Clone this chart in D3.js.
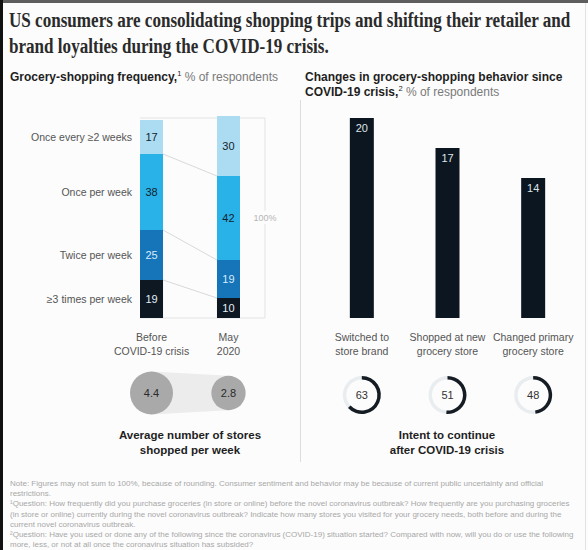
<!DOCTYPE html>
<html>
<head>
<meta charset="utf-8">
<script src="https://cdn.jsdelivr.net/npm/d3@7"></script>
<style>
  html, body { margin: 0; padding: 0; background: #fff; }
  svg { display: block; font-family: "Liberation Sans", Arial, sans-serif; }
</style>
</head>
<body>
<svg id="chart" width="588" height="550"></svg>
<script>
// ---- data ----
const titleLines = [
  "US consumers are consolidating shopping trips and shifting their retailer and",
  "brand loyalties during the COVID-19 crisis."
];
const frequencyLabels = ["≥3 times per week", "Twice per week", "Once per week", "Once every ≥2 weeks"];
const periodLabels = [["Before", "COVID-19 crisis"], ["May", "2020"]];
const beforeShares = [19, 25, 38, 17];
const may2020Shares = [10, 19, 42, 30];
const avgStores = [4.4, 2.8];
const changeLabels = [["Switched to", "store brand"], ["Shopped at new", "grocery store"], ["Changed primary", "grocery store"]];
const changeShares = [20, 17, 14];
const intentShares = [63, 51, 48];
const footnotes = [
  "Note: Figures may not sum to 100%, because of rounding. Consumer sentiment and behavior may be because of current public uncertainty and official",
  "restrictions.",
  "¹Question: How frequently did you purchase groceries (in store or online) before the novel coronavirus outbreak? How frequently are you purchasing groceries",
  "(in store or online) currently during the novel coronavirus outbreak? Indicate how many stores you visited for your grocery needs, both before and during the",
  "current novel coronavirus outbreak.",
  "²Question: Have you used or done any of the following since the coronavirus (COVID-19) situation started? Compared with now, will you do or use the following",
  "more, less, or not at all once the coronavirus situation has subsided?"
];

// ---- styling ----
const segmentFill = ["#0d1823", "#1674b8", "#29b2e8", "#acdcf1"];
const segmentText = ["#e6eef5", "#d6ecfa", "#14222e", "#14222e"];
const ink = "#1f1f1f";

const svg = d3.select("#chart");

// page frame
svg.append("rect").attr("width", 588).attr("height", 550).attr("fill", "#fcfcfc");
svg.append("rect").attr("width", 588).attr("height", 3).attr("fill", "#5e5e5e");
svg.append("rect").attr("width", 3).attr("height", 550).attr("fill", "#111");
svg.append("line").attr("x1", 585.5).attr("x2", 585.5).attr("y1", 3).attr("y2", 550)
  .attr("stroke", "#e2e2e2");

// ---- title (narrowed horizontally to a condensed serif look) ----
const title = svg.append("g")
  .attr("font-family", "'Liberation Serif', 'DejaVu Serif', serif")
  .attr("font-weight", "bold").attr("font-size", 21).attr("fill", "#2b2b2b");
const titleTexts = title.selectAll("text").data(titleLines).join("text").text(d => d);
const squeeze = 562 / titleTexts.nodes()[0].getComputedTextLength();
titleTexts.attr("transform", (d, i) => `translate(9,${27 + i * 26}) scale(${squeeze},1)`);

// ---- subtitle helper ----
function subtitle(x, y, boldLines, sup, rest) {
  boldLines.forEach((line, i) => {
    const t = svg.append("text").attr("x", x).attr("y", y + i * 15)
      .attr("font-size", 12).attr("fill", ink);
    t.append("tspan").attr("font-weight", "bold").text(line);
    if (i === boldLines.length - 1) {
      t.append("tspan").attr("font-size", 7.5).attr("dy", -5).text(sup);
      t.append("tspan").attr("dy", 5).attr("fill", "#7a7a7a").text(" " + rest);
    }
  });
}
subtitle(10, 81, ["Grocery-shopping frequency,"], "1", "% of respondents");
subtitle(305, 81, ["Changes in grocery-shopping behavior since", "COVID-19 crisis,"], "2", "% of respondents");

// divider between the two panels
svg.append("line").attr("x1", 300.5).attr("x2", 300.5).attr("y1", 100).attr("y2", 462)
  .attr("stroke", "#dcdcdc");

// ---- left panel: stacked frequency bars ----
const xL = d3.scaleBand().domain([0, 1]).range([140, 240]).paddingInner(0.701);
const yL = d3.scaleLinear().domain([0, 100]).range([318, 118]);

const rows = [beforeShares, may2020Shares].map(arr => Object.assign({}, arr));
const stacked = d3.stack().keys(d3.range(frequencyLabels.length))(rows);

// 100% frame
const frameRight = 265;
svg.append("path")
  .attr("d", `M${xL(0)},${yL(100)}H${frameRight}V${yL(0)}H${xL(0)}`)
  .attr("fill", "none").attr("stroke", "#e3e3e3");
svg.append("rect").attr("x", frameRight - 14).attr("y", yL(50) - 7).attr("width", 28).attr("height", 13)
  .attr("fill", "#fcfcfc");
svg.append("text").attr("x", frameRight).attr("y", yL(50)).attr("dy", "0.35em")
  .attr("text-anchor", "middle").attr("font-size", 9).attr("fill", "#b5b5b5").text("100%");

// connectors between matching segment boundaries
const boundaries = stacked.slice(0, -1).map(s => [s[0][1], s[1][1]]);
svg.append("g").selectAll("line").data(boundaries).join("line")
  .attr("x1", xL(0) + xL.bandwidth()).attr("x2", xL(1))
  .attr("y1", d => yL(d[0])).attr("y2", d => yL(d[1]))
  .attr("stroke", "#d9d9d9").attr("stroke-width", 1);

const seg = svg.append("g").selectAll("g").data(stacked).join("g");
seg.selectAll("rect").data((s) => s.map((d, j) => ({ d, j, k: s.key }))).join("rect")
  .attr("x", o => xL(o.j)).attr("width", xL.bandwidth())
  .attr("y", o => yL(o.d[1])).attr("height", o => yL(o.d[0]) - yL(o.d[1]))
  .attr("fill", o => segmentFill[o.k]);
seg.selectAll("text").data((s) => s.map((d, j) => ({ d, j, k: s.key }))).join("text")
  .attr("x", o => xL(o.j) + xL.bandwidth() / 2)
  .attr("y", o => yL((o.d[0] + o.d[1]) / 2)).attr("dy", "0.36em")
  .attr("text-anchor", "middle").attr("font-size", 11)
  .attr("fill", o => segmentText[o.k])
  .text(o => o.d[1] - o.d[0]);

// category labels beside the first bar
svg.append("g").selectAll("text").data(stacked).join("text")
  .attr("x", 132).attr("y", s => yL((s[0][0] + s[0][1]) / 2)).attr("dy", "0.35em")
  .attr("text-anchor", "end").attr("font-size", 10.5).attr("fill", "#555")
  .text(s => frequencyLabels[s.key]);

// period labels
periodLabels.forEach((lines, j) => {
  svg.append("g").selectAll("text").data(lines).join("text")
    .attr("x", xL(j) + xL.bandwidth() / 2).attr("y", (d, i) => 341 + i * 14)
    .attr("text-anchor", "middle").attr("font-size", 10.5).attr("fill", "#555").text(d => d);
});

// average number of stores bubbles
const rScale = d3.scaleSqrt().domain([0, 4.4]).range([0, 21.5]);
const bubbleY = 393;
const bx = avgStores.map((v, j) => xL(j) + xL.bandwidth() / 2);
svg.append("path")
  .attr("d", `M${bx[0]},${bubbleY - rScale(avgStores[0])}L${bx[1]},${bubbleY - rScale(avgStores[1])}` +
             `V${bubbleY + rScale(avgStores[1])}L${bx[0]},${bubbleY + rScale(avgStores[0])}Z`)
  .attr("fill", "#ececec");
svg.append("g").selectAll("circle").data(avgStores).join("circle")
  .attr("cx", (d, j) => bx[j]).attr("cy", bubbleY).attr("r", d => rScale(d))
  .attr("fill", "#a9a9a9");
svg.append("g").selectAll("text").data(avgStores).join("text")
  .attr("x", (d, j) => bx[j]).attr("y", bubbleY).attr("dy", "0.36em")
  .attr("text-anchor", "middle").attr("font-size", 11).attr("fill", "#2a2a2a")
  .text(d => d.toFixed(1));
svg.append("g").selectAll("text").data(["Average number of stores", "shopped per week"]).join("text")
  .attr("x", 190).attr("y", (d, i) => 439 + i * 15).attr("text-anchor", "middle")
  .attr("font-size", 11.5).attr("font-weight", "bold").attr("fill", ink).text(d => d);

// ---- right panel: behaviour change bars ----
const xR = d3.scaleBand().domain(d3.range(changeShares.length)).range([319, 576])
  .paddingInner(0.72).paddingOuter(0.36);
const yR = d3.scaleLinear().domain([0, 20]).range([318, 118]);
const cxR = i => xR(i) + xR.bandwidth() / 2;

svg.append("g").selectAll("rect").data(changeShares).join("rect")
  .attr("x", (d, i) => xR(i)).attr("width", xR.bandwidth())
  .attr("y", d => yR(d)).attr("height", d => yR(0) - yR(d))
  .attr("fill", "#0c1620");
svg.append("g").selectAll("text").data(changeShares).join("text")
  .attr("x", (d, i) => cxR(i)).attr("y", d => yR(d) + 14)
  .attr("text-anchor", "middle").attr("font-size", 11).attr("fill", "#dfe5ea").text(d => d);

changeLabels.forEach((lines, i) => {
  svg.append("g").selectAll("text").data(lines).join("text")
    .attr("x", cxR(i)).attr("y", (d, k) => 341 + k * 14)
    .attr("text-anchor", "middle").attr("font-size", 10.5).attr("fill", "#555").text(d => d);
});

// intent-to-continue rings
const ringY = 395;
const ringArc = d3.arc().innerRadius(15.5).outerRadius(19).startAngle(0);
const rings = svg.append("g").selectAll("g").data(intentShares).join("g")
  .attr("transform", (d, i) => `translate(${cxR(i)},${ringY})`);
rings.append("path").attr("d", ringArc({ endAngle: 2 * Math.PI })).attr("fill", "#e9edf0");
rings.append("path").attr("d", d => ringArc({ endAngle: 2 * Math.PI * d / 100 })).attr("fill", "#161c24");
rings.append("text").attr("dy", "0.36em").attr("text-anchor", "middle")
  .attr("font-size", 11).attr("fill", "#333").text(d => d);
svg.append("g").selectAll("text").data(["Intent to continue", "after COVID-19 crisis"]).join("text")
  .attr("x", 447).attr("y", (d, i) => 439 + i * 15).attr("text-anchor", "middle")
  .attr("font-size", 11.5).attr("font-weight", "bold").attr("fill", ink).text(d => d);

// ---- footnotes ----
const notes = svg.append("g").attr("font-size", 8).attr("fill", "#a8a8a8");
notes.selectAll("text").data(footnotes).join("text")
  .attr("x", 10).attr("y", (d, i) => 486 + i * 10.2).text(d => d)
  .each(function () {
    const w = this.getComputedTextLength();
    if (w > 570) d3.select(this).attr("textLength", 570).attr("lengthAdjust", "spacingAndGlyphs");
  });
</script>
</body>
</html>
